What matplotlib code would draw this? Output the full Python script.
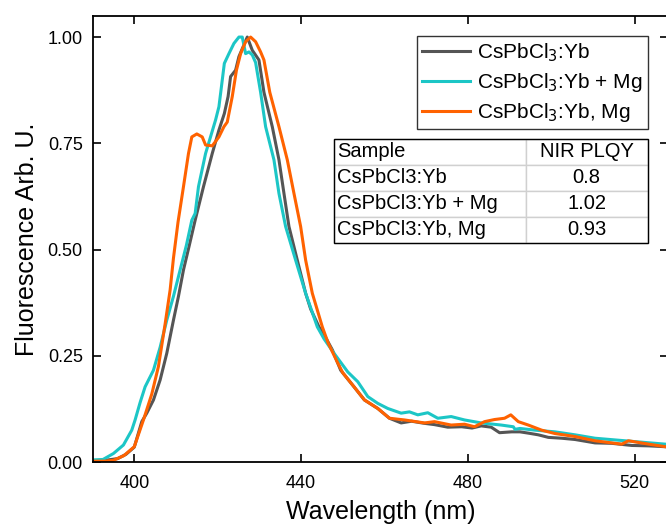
import numpy as np
import matplotlib
matplotlib.use('Agg')
from matplotlib import pyplot as plt
from matplotlib.patches import Rectangle

plt.rcParams['font.family'] = ['Liberation Sans', 'DejaVu Sans']

# CsPbCl3:Yb (gray)
wl_yb = [388, 393, 396, 398, 400, 401.8, 403, 404.6, 406.2, 407.8, 409.4, 410.6, 411.8, 413.2, 414.6,
         416.6, 418.7, 420.3, 421.6, 422.5, 423.1, 424.3, 425.1, 426.1, 427.1, 428.3, 429.9, 431.1,
         433.1, 434.7, 435.9, 437.1, 439.1, 441.1, 442.3, 444.3, 445.5, 447.5,
         449.5, 452.7, 455.2, 458.4, 461.2, 464, 466.5, 469.6, 472, 475.2, 478.5, 481, 483.2, 485.6,
         487.6, 490.5, 492.5, 494.5, 496.9, 499.3, 502.5, 505.7, 510.5, 514.5, 519.3, 523.4, 527.4, 530]
fl_yb = [0.003, 0.004, 0.008, 0.018, 0.035, 0.095, 0.115, 0.146, 0.193, 0.256, 0.334, 0.39, 0.452, 0.51,
         0.569, 0.648, 0.726, 0.781, 0.82, 0.86, 0.907, 0.922, 0.954, 0.977, 1.0, 0.969, 0.946, 0.87,
         0.789, 0.711, 0.632, 0.554, 0.475, 0.397, 0.36, 0.318, 0.30, 0.264,
         0.216, 0.177, 0.146, 0.126, 0.103, 0.092, 0.096, 0.091, 0.088, 0.082, 0.083, 0.080, 0.085,
         0.082, 0.069, 0.071, 0.071, 0.068, 0.064, 0.058, 0.056, 0.053, 0.045, 0.044, 0.039, 0.038,
         0.036, 0.035]

# CsPbCl3:Yb + Mg (cyan)
wl_mg = [388, 392.5, 395, 397.4, 399.4, 400.2, 401.4, 402.6, 404.6, 406.2, 407.8, 409.4, 411, 412.5,
         413.8, 414.6, 415.4, 417.1, 419.5, 420.3, 420.8, 421.6, 422.7, 423.9, 425.1, 425.9, 426.7,
         427.5, 428.3, 429.1, 430.3, 431.5, 433.5, 434.7, 436.3, 438.7, 439.9, 441.1, 443.9, 445.5,
         447.9, 451.2, 453.6, 456, 458.4, 460.8, 464, 466, 468, 470.4, 472.8, 476, 479.2,
         483.2, 488, 490.9, 491.3, 492.5, 496.1, 500.9, 505.7, 510.5, 515.3, 520.1, 527.4, 530]
fl_mg = [0.004, 0.006, 0.02, 0.04, 0.075, 0.099, 0.14, 0.177, 0.216, 0.27, 0.334, 0.39, 0.452, 0.51,
         0.569, 0.585, 0.648, 0.726, 0.805, 0.836, 0.875, 0.938, 0.961, 0.985, 1.0, 1.0, 0.961,
         0.965, 0.958, 0.94, 0.87, 0.789, 0.711, 0.632, 0.554, 0.475, 0.436, 0.397, 0.318, 0.29,
         0.256, 0.212, 0.189, 0.154, 0.138, 0.126, 0.115, 0.118, 0.111, 0.116,
         0.103, 0.107, 0.099, 0.092, 0.087, 0.083, 0.077, 0.079, 0.075, 0.071, 0.064, 0.056, 0.052,
         0.048, 0.042, 0.040]

# CsPbCl3:Yb, Mg (orange)
wl_ym = [388, 393, 395, 397.5, 400, 402.2, 404.2, 405.8, 407.4, 408.6, 409.4, 410.5, 411.8, 413.0,
         413.8, 415.0, 416.3, 417.1, 418.7, 420.3, 421.5, 422.3, 423.5, 424.5, 425.5, 426.7, 427.9,
         429.1, 430.3, 431.1, 432.5, 434.7, 436.7, 438.3, 439.9, 441.1, 442.7, 445.1, 446.5, 448.7,
         450, 452.7, 455.2, 458.4, 461.2, 464.8, 469.6, 472, 476, 479.2, 481.6,
         484, 486.4, 488.8, 490.3, 492.1, 494.5, 497.7, 500.9, 505.7, 510.5, 516.9, 518.5, 523.4,
         527.4, 530]
fl_ym = [0.002, 0.002, 0.004, 0.015, 0.036, 0.099, 0.16, 0.225, 0.325, 0.405, 0.48, 0.565, 0.648,
         0.726, 0.765, 0.772, 0.765, 0.746, 0.744, 0.765, 0.789, 0.80, 0.86, 0.922, 0.961, 0.989, 1.0,
         0.989, 0.965, 0.946, 0.87, 0.789, 0.711, 0.632, 0.554, 0.475, 0.397, 0.318, 0.28, 0.235,
         0.21, 0.177, 0.146, 0.126, 0.103, 0.099, 0.092, 0.095, 0.087, 0.089, 0.083,
         0.095, 0.100, 0.103, 0.111, 0.095, 0.087, 0.075, 0.067, 0.060, 0.050, 0.042, 0.050, 0.042,
         0.036, 0.035]

series = [
    (wl_yb, fl_yb, 'CsPbCl$_3$:Yb', '#555555'),
    (wl_mg, fl_mg, 'CsPbCl$_3$:Yb + Mg', '#1CC6C6'),
    (wl_ym, fl_ym, 'CsPbCl$_3$:Yb, Mg', '#FF6200'),
]

table_rows = [['Sample', 'NIR PLQY'],
              ['CsPbCl3:Yb', '0.8'],
              ['CsPbCl3:Yb + Mg', '1.02'],
              ['CsPbCl3:Yb, Mg', '0.93']]

fig = plt.figure(figsize=(6.66, 5.27), dpi=100)
ax = fig.add_axes([0.139, 0.1233, 0.864, 0.8467])

for wl, fl, lab, col in series:
    ax.plot(wl, fl, color=col, lw=2.2, label=lab)

ax.set_xlim(390, 528)
ax.set_ylim(0, 1.05)
ax.set_xticks([400, 440, 480, 520])
ax.set_yticks([0, 0.25, 0.5, 0.75, 1.0])
ax.set_yticklabels(['0.00', '0.25', '0.50', '0.75', '1.00'])
ax.tick_params(direction='in', top=True, right=True, length=6, width=1.2, labelsize=13)
ax.tick_params(axis='x', pad=9)
ax.tick_params(axis='y', pad=7)
for sp in ax.spines.values():
    sp.set_linewidth(1.3)

ax.set_xlabel('Wavelength (nm)', fontsize=18, labelpad=6)
ax.set_ylabel('Fluorescence Arb. U.', fontsize=18, labelpad=6)

leg = ax.legend(loc='upper right', bbox_to_anchor=(0.965, 0.955), borderaxespad=0,
                fontsize=15, frameon=True, fancybox=False, edgecolor='black',
                handlelength=2.3, handletextpad=0.35, labelspacing=0.35, borderpad=0.25)
leg.get_frame().set_linewidth(1.0)

tx0, tx1, ty0, ty1 = 0.42, 0.965, 0.4915, 0.725
tbl = ax.table(cellText=table_rows, bbox=[tx0, ty0, tx1 - tx0, ty1 - ty0],
               colWidths=[0.61, 0.39], cellLoc='center')
tbl.auto_set_font_size(False)
tbl.set_fontsize(14.5)
for (r, c), cell in tbl.get_celld().items():
    cell.set_edgecolor('#d0d0d0')
    cell.set_linewidth(1.0)
    if c == 0:
        cell.get_text().set_ha('left')
        cell.PAD = 0.015
ax.add_patch(Rectangle((tx0, ty0), tx1 - tx0, ty1 - ty0, transform=ax.transAxes,
                       fill=False, edgecolor='black', lw=1.0, zorder=10))

fig.savefig('out.png', dpi=100)
